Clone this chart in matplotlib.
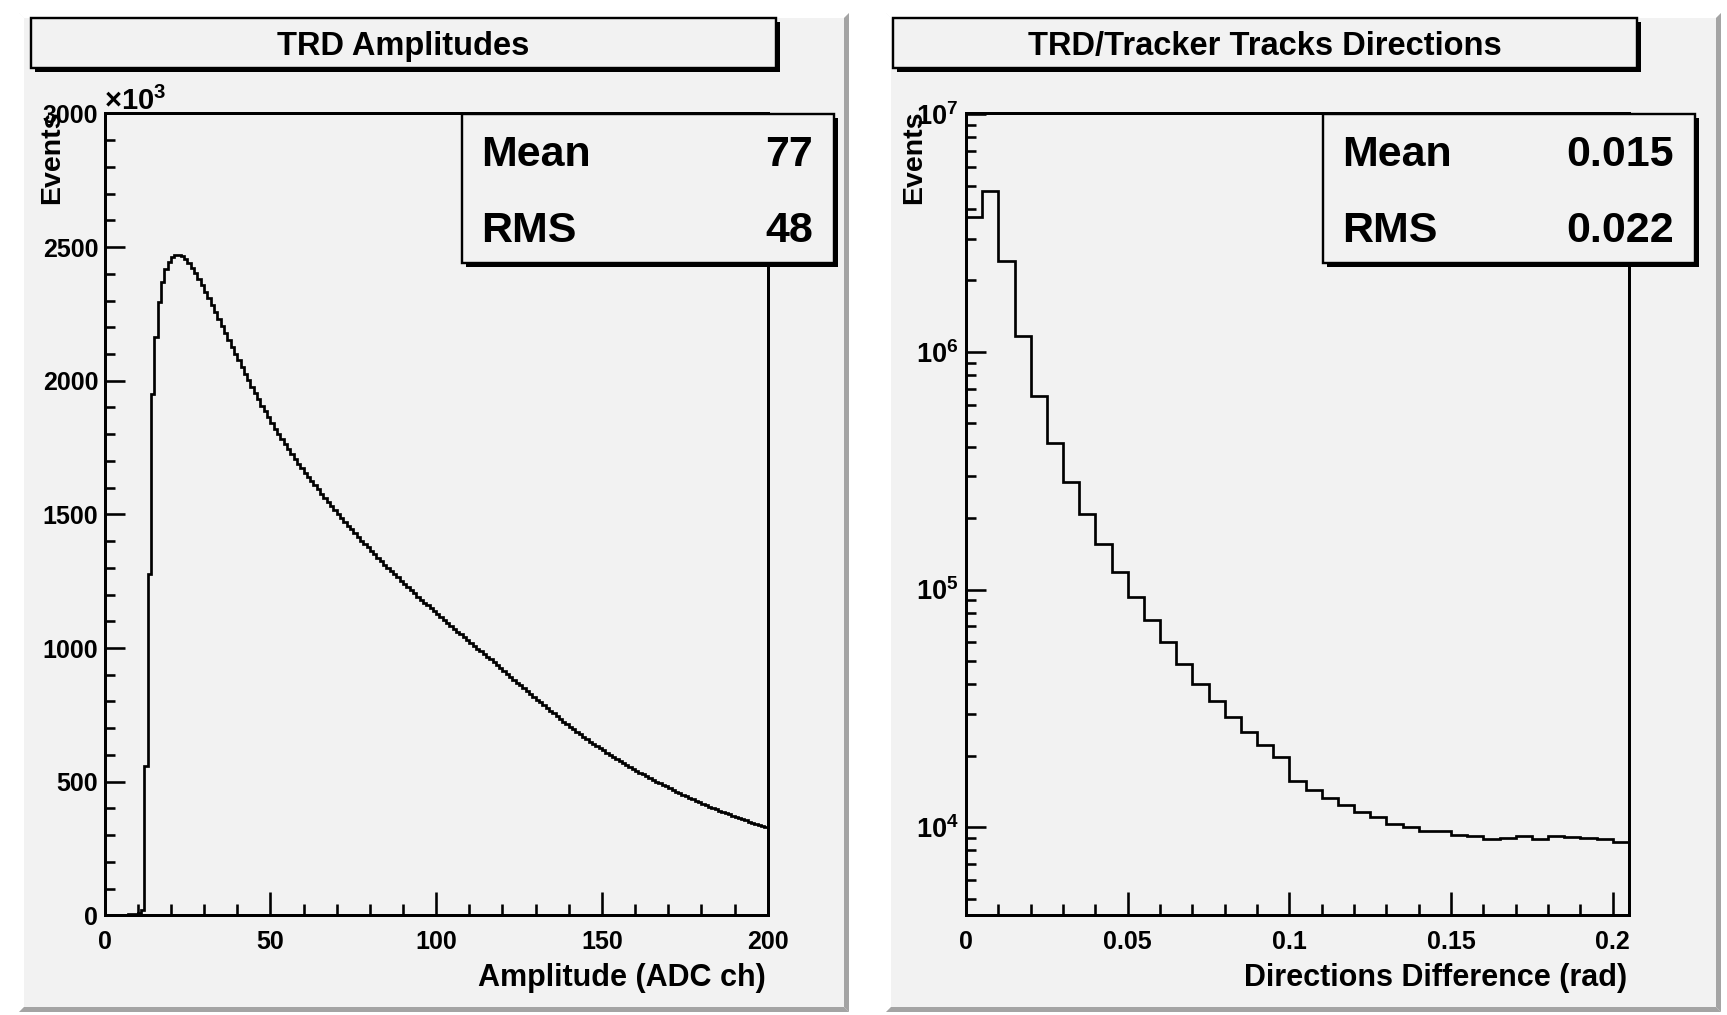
import numpy as np
import matplotlib
matplotlib.use('Agg')
import matplotlib.pyplot as plt
from matplotlib.patches import Rectangle, Polygon
from matplotlib.ticker import FixedLocator, MultipleLocator, LogLocator, NullFormatter, FuncFormatter

# ---------------- data ----------------
amp_lo, amp_hi = 0, 200            # ADC channels, 1-channel bins
amp_counts_k = [
    0, 0, 0, 0, 0, 0, 0, 4, 5, 6,
    8, 20, 558, 1276, 1951, 2164, 2295, 2370, 2417, 2445,
    2463, 2472, 2472, 2466, 2455, 2440, 2422, 2402, 2380, 2357,
    2333, 2308, 2283, 2257, 2231, 2205, 2179, 2153, 2127, 2101,
    2076, 2051, 2026, 2001, 1977, 1953, 1930, 1907, 1885, 1863,
    1842, 1821, 1801, 1781, 1762, 1743, 1725, 1707, 1690, 1673,
    1656, 1640, 1624, 1608, 1593, 1578, 1563, 1548, 1533, 1518,
    1503, 1488, 1473, 1458, 1444, 1430, 1416, 1402, 1389, 1376,
    1363, 1350, 1337, 1324, 1312, 1300, 1288, 1276, 1264, 1252,
    1240, 1228, 1216, 1204, 1192, 1181, 1170, 1159, 1148, 1137,
    1126, 1115, 1104, 1093, 1083, 1072, 1061, 1051, 1040, 1030,
    1019, 1009, 998, 988, 978, 967, 957, 946, 935, 924,
    913, 902, 892, 881, 870, 860, 849, 839, 828, 818,
    807, 797, 786, 776, 765, 755, 745, 735, 725, 715,
    706, 696, 687, 677, 668, 659, 650, 642, 634, 625,
    617, 608, 600, 592, 584, 577, 570, 562, 555, 548,
    541, 534, 527, 520, 513, 507, 500, 494, 488, 482,
    476, 470, 463, 457, 451, 445, 440, 434, 429, 423,
    418, 412, 407, 401, 396, 391, 387, 382, 378, 373,
    368, 364, 359, 355, 350, 346, 342, 337, 333, 329,
]

dir_lo, dir_hi = 0.0, 0.205        # rad, 0.005 rad bins
dir_counts = [
    3.69e6, 4.74e6, 2.42e6, 1.17e6, 6.51e5, 4.13e5, 2.84e5, 2.07e5, 1.556e5, 1.186e5,
    9.28e4, 7.43e4, 6.00e4, 4.86e4, 4.00e4, 3.39e4, 2.90e4, 2.51e4, 2.21e4, 1.98e4,
    1.568e4, 1.43e4, 1.32e4, 1.235e4, 1.154e4, 1.103e4, 1.030e4, 1.00e4, 9.63e3, 9.60e3,
    9.26e3, 9.15e3, 8.91e3, 9.00e3, 9.15e3, 8.94e3, 9.15e3, 9.06e3, 9.00e3, 8.88e3,
    8.63e3,
]

titles = ["TRD Amplitudes", "TRD/Tracker Tracks Directions"]
xlabels = ["Amplitude (ADC ch)", "Directions Difference (rad)"]
ylabel = "Events"
stats_names = ["Mean", "RMS"]
stats_left = ["77", "48"]
stats_right = ["0.015", "0.022"]
amp_yticks = [0, 500, 1000, 1500, 2000, 2500, 3000]
amp_xticks = [0, 50, 100, 150, 200]
dir_xticks = [0, 0.05, 0.1, 0.15, 0.2]
dir_xticklabels = ["0", "0.05", "0.1", "0.15", "0.2"]
dir_yticks = [1e4, 1e5, 1e6, 1e7]

# ---------------- style ----------------
W, H = 1727, 1015
plt.rcParams['font.family'] = ['Liberation Sans', 'DejaVu Sans']
plt.rcParams['font.weight'] = 'bold'
plt.rcParams['mathtext.fontset'] = 'custom'
plt.rcParams['mathtext.rm'] = 'Liberation Sans:bold'
plt.rcParams['mathtext.bf'] = 'Liberation Sans:bold'
plt.rcParams['mathtext.it'] = 'Liberation Sans:bold'
plt.rcParams['mathtext.default'] = 'rm'

PAD = '#f2f2f2'
DARK = '#a4a4a4'
LIGHT = '#ffffff'
PX = 0.72  # points per pixel at dpi 100

fig = plt.figure(figsize=(W / 100, H / 100), dpi=100)
fig.patch.set_facecolor('white')


def fx(p):
    return p / W


def fy(p):
    return 1 - p / H


def rect(x0, y0, x1, y1, z, **kw):
    r = Rectangle((fx(x0), fy(y1)), (x1 - x0) / W, (y1 - y0) / H,
                  transform=fig.transFigure, zorder=z, **kw)
    fig.add_artist(r)
    return r


def poly(pts, z, color):
    p = Polygon([(fx(a), fy(b)) for a, b in pts], closed=True,
                transform=fig.transFigure, zorder=z, facecolor=color,
                edgecolor='none')
    fig.add_artist(p)


def pad(x0, y0, x1, y1, b=5):
    rect(x0, y0, x1, y1, -10, facecolor=PAD, edgecolor='none')
    poly([(x0, y0), (x1, y0), (x1 - b, y0 + b), (x0 + b, y0 + b)], -9, LIGHT)
    poly([(x0, y0), (x0 + b, y0 + b), (x0 + b, y1 - b), (x0, y1)], -9, LIGHT)
    poly([(x0, y1), (x1, y1), (x1 - b, y1 - b), (x0 + b, y1 - b)], -9, DARK)
    poly([(x1, y0), (x1, y1), (x1 - b, y1 - b), (x1 - b, y0 + b)], -9, DARK)


def shadow_box(x0, y0, x1, y1, sh=4):
    rect(x0 + sh, y0 + sh, x1 + sh, y1 + sh, 4, facecolor='black', edgecolor='none')
    rect(x0, y0, x1, y1, 5, facecolor=PAD, edgecolor='black', linewidth=2.0 * PX * 1.2)


pad(19, 13, 849, 1012)
pad(886, 13, 1721, 1012)

AX_TOP, AX_BOT = 113.4, 915.3
axes_px = [(104.6, 767.7), (966.0, 1629.0)]
axs = []
for (l, r) in axes_px:
    ax = fig.add_axes([fx(l), fy(AX_BOT), (r - l) / W, (AX_BOT - AX_TOP) / H])
    ax.set_facecolor('none')
    for s in ax.spines.values():
        s.set_linewidth(3.0 * PX)
    ax.tick_params(axis='both', which='both', direction='in', top=False, right=False,
                   width=2.6 * PX, labelsize=18)
    ax.tick_params(axis='x', which='major', length=23 * PX, pad=10.5)
    ax.tick_params(axis='x', which='minor', length=11 * PX)
    ax.tick_params(axis='y', which='major', length=20 * PX, pad=4.5)
    ax.tick_params(axis='y', which='minor', length=10 * PX)
    axs.append(ax)

# ---- left: amplitudes ----
ax = axs[0]
amp_edges = np.arange(amp_lo, amp_hi + 1)
ax.stairs(amp_counts_k, amp_edges, baseline=None, color='black', linewidth=2.7 * PX)
ax.set_xlim(amp_lo, amp_hi)
ax.set_ylim(0, 3000)
ax.xaxis.set_major_locator(FixedLocator(amp_xticks))
ax.xaxis.set_minor_locator(MultipleLocator(10))
ax.yaxis.set_major_locator(FixedLocator(amp_yticks))
ax.yaxis.set_minor_locator(MultipleLocator(100))
ax.set_xticklabels([str(v) for v in amp_xticks])
ax.set_yticklabels([str(v) for v in amp_yticks])

# ---- right: directions ----
ax = axs[1]
dir_edges = np.linspace(dir_lo, dir_hi, len(dir_counts) + 1)
ax.stairs(dir_counts, dir_edges, baseline=None, color='black', linewidth=2.7 * PX)
ax.set_yscale('log')
ax.set_xlim(dir_lo, dir_hi)
ax.set_ylim(4253, 1.01e7)
ax.xaxis.set_major_locator(FixedLocator(dir_xticks))
ax.xaxis.set_minor_locator(MultipleLocator(0.01))
ax.set_xticklabels(dir_xticklabels)
ax.yaxis.set_major_locator(FixedLocator(dir_yticks))
ax.yaxis.set_major_formatter(FuncFormatter(lambda v, p: r'$10^{%d}$' % round(np.log10(v))))
ax.yaxis.set_minor_locator(LogLocator(base=10, subs=np.arange(2, 10)))
ax.yaxis.set_minor_formatter(NullFormatter())
ax.tick_params(axis='y', which='major', pad=5.5, labelsize=19.5)

for ax in axs:
    for lab in ax.get_xticklabels() + ax.get_yticklabels():
        lab.set_fontweight('bold')

# ---- titles ----
title_boxes = [(31, 18, 776, 68), (893, 18, 1637, 68)]
for (x0, y0, x1, y1), t in zip(title_boxes, titles):
    shadow_box(x0, y0, x1, y1, sh=4)
    fig.text(fx((x0 + x1) / 2), fy(55), t, ha='center', va='baseline',
             fontsize=23.5, fontweight='bold', zorder=6)

# ---- stats boxes ----
stat_boxes = [(462, 114, 834, 263), (1323, 114, 1695, 263)]
stat_vals = [stats_left, stats_right]
for (x0, y0, x1, y1), vals in zip(stat_boxes, stat_vals):
    shadow_box(x0, y0, x1, y1, sh=4)
    for name, val, base in zip(stats_names, vals, (166.5, 241.5)):
        fig.text(fx(x0 + 19.5), fy(base), name, ha='left', va='baseline',
                 fontsize=31, fontweight='bold', zorder=6)
        fig.text(fx(x1 - 21), fy(base), val, ha='right', va='baseline',
                 fontsize=31, fontweight='bold', zorder=6)

# ---- axis titles ----
fig.text(fx(765.5), fy(986), xlabels[0], ha='right', va='baseline', fontsize=22, fontweight='bold')
fig.text(fx(1627), fy(986), xlabels[1], ha='right', va='baseline', fontsize=22, fontweight='bold')
fig.text(fx(52), fy(111), ylabel, rotation=90, ha='center', va='top', fontsize=20.5, fontweight='bold')
fig.text(fx(914), fy(111), ylabel, rotation=90, ha='center', va='top', fontsize=20.5, fontweight='bold')
fig.text(fx(104), fy(110), '×' + r'$10^{3}$', ha='left', va='baseline', fontsize=21)

fig.savefig('out.png', dpi=100, facecolor='white')
